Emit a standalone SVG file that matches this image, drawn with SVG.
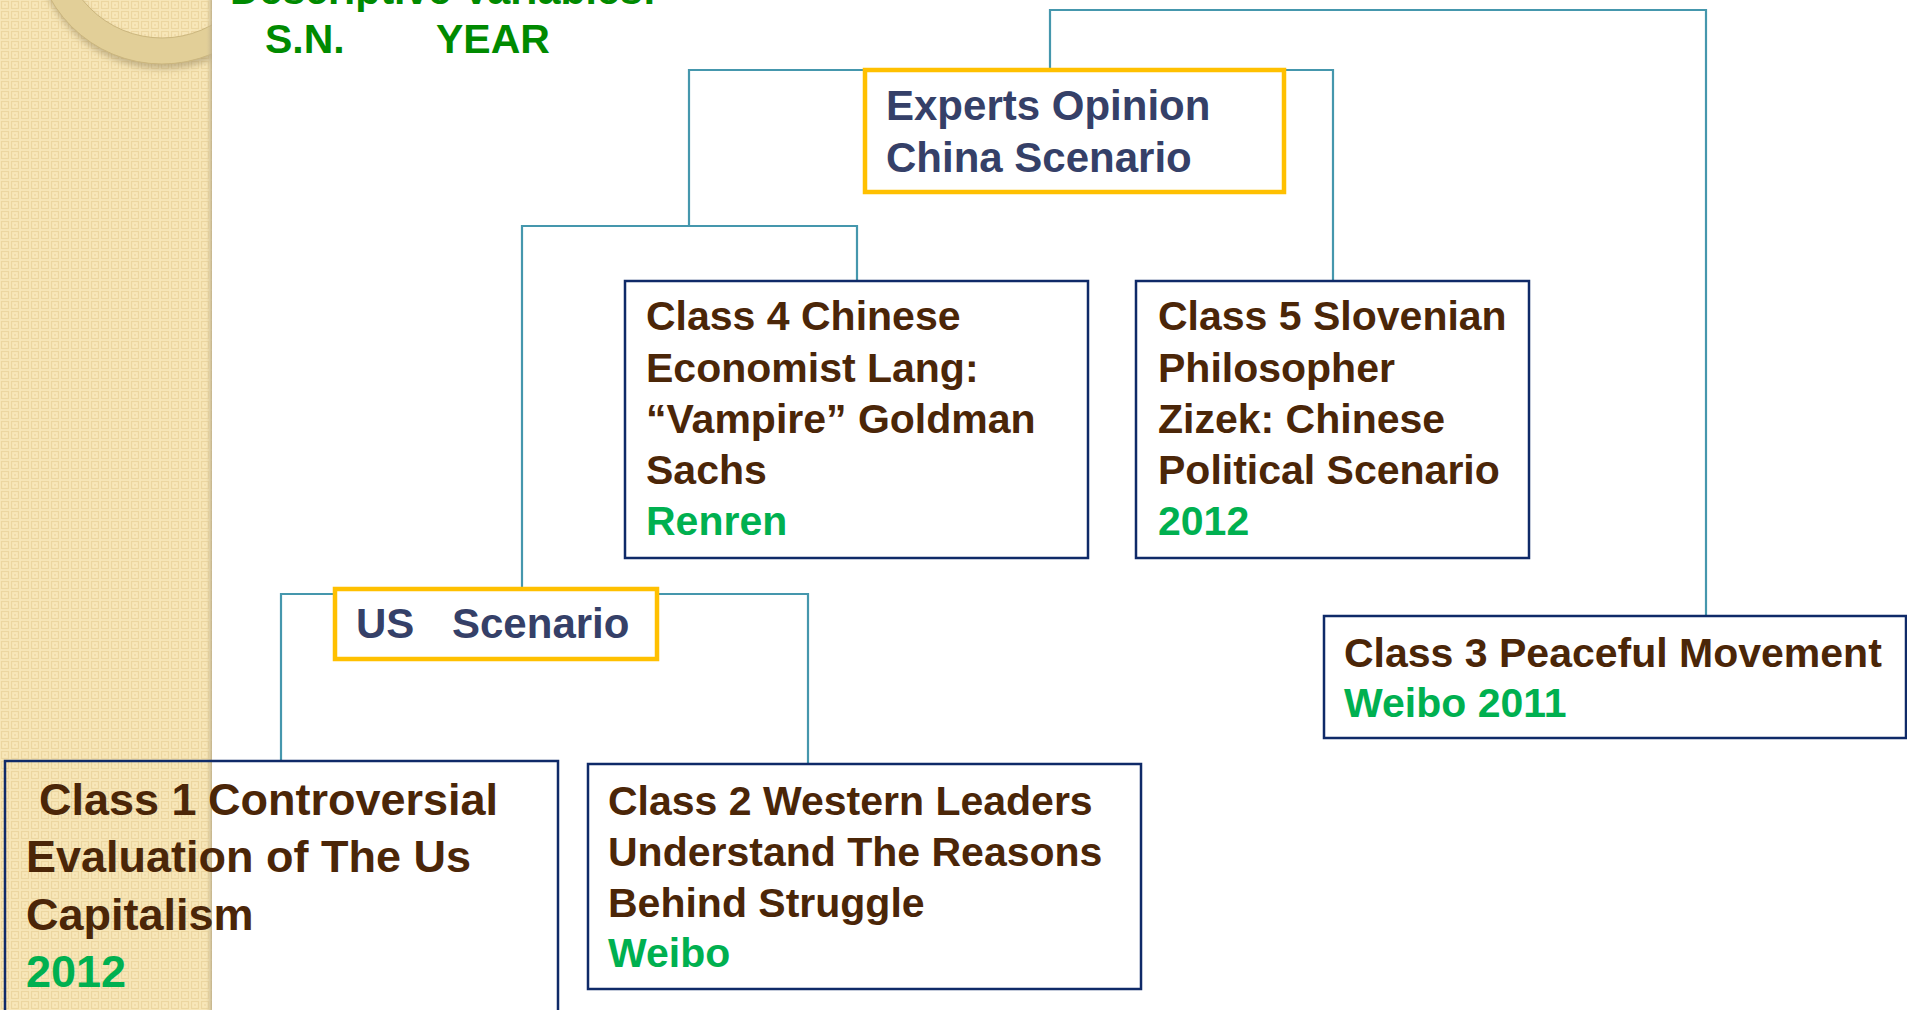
<svg xmlns="http://www.w3.org/2000/svg" width="1907" height="1010" viewBox="0 0 1907 1010">
  <defs>
    <pattern id="weave" x="0" y="0" width="10" height="10" patternUnits="userSpaceOnUse">
      <rect width="10" height="10" fill="#f8e7b9"/>
      <rect x="1.5" y="1.5" width="7" height="7" fill="none" stroke="#ecd6a0" stroke-width="1.2"/>
      <rect x="4" y="4" width="2" height="2" fill="#f1dcaa"/>
    </pattern>
    <clipPath id="stripClip">
      <rect x="0" y="0" width="212" height="1010"/>
    </clipPath>
    <filter id="ringShadow" x="-20%" y="-20%" width="140%" height="140%">
      <feGaussianBlur stdDeviation="3"/>
    </filter>
    <linearGradient id="edge" x1="0" y1="0" x2="1" y2="0">
      <stop offset="0" stop-color="#d8c79a" stop-opacity="0"/>
      <stop offset="1" stop-color="#b9ab88" stop-opacity="0.8"/>
    </linearGradient>
  </defs>
  <style>
    .conn { fill: none; stroke: #4597ad; stroke-width: 2.2; }
    .box { fill: none; stroke: #0f2a68; stroke-width: 2.5; }
    .gold { fill: #ffffff; stroke: #ffc000; stroke-width: 4.5; }
    text { font-family: "Liberation Sans", Arial, sans-serif; font-weight: bold; }
    .b { fill: #4b2608; font-size: 41px; }
    .b1 { fill: #4b2608; font-size: 45px; }
    .g { fill: #00b050; font-size: 41px; }
    .g1 { fill: #00b050; font-size: 45px; }
    .n { fill: #354068; font-size: 42px; }
    .hd { fill: #008a00; font-size: 41px; }
  </style>

  <rect x="0" y="0" width="1907" height="1010" fill="#ffffff"/>

  <!-- decorative side strip -->
  <g id="strip">
    <rect x="0" y="0" width="212" height="1010" fill="url(#weave)"/>
    <g clip-path="url(#stripClip)">
      <path d="M290,-64 a128,128 0 1,0 -256,0 a128,128 0 1,0 256,0 Z M264,-64 a102,102 0 1,1 -204,0 a102,102 0 1,1 204,0 Z" fill="#8a7a55" fill-opacity="0.45" fill-rule="evenodd" transform="translate(1,5)" filter="url(#ringShadow)"/>
      <path d="M290,-64 a128,128 0 1,0 -256,0 a128,128 0 1,0 256,0 Z M264,-64 a102,102 0 1,1 -204,0 a102,102 0 1,1 204,0 Z" fill="#e2cf98" stroke="#cbb67e" stroke-width="1" fill-rule="evenodd"/>
    </g>
    <rect x="206" y="0" width="6" height="1010" fill="url(#edge)"/>
  </g>

  <!-- heading -->
  <g id="heading">
    <text class="hd" x="230" y="4">Descriptive Variables:</text>
    <text class="hd" x="265" y="53">S.N.</text>
    <text class="hd" x="436" y="53">YEAR</text>
  </g>

  <!-- connectors -->
  <g id="connectors">
    <path class="conn" d="M1050,70 V10 H1706 V616"/>
    <path class="conn" d="M689,226 V70 H1333 V281"/>
    <path class="conn" d="M522,588 V226 H857 V281"/>
    <path class="conn" d="M281,761 V594 H808 V764"/>
  </g>

  <g id="experts">
    <rect class="gold" x="865" y="70" width="419" height="122"/>
    <text class="n" x="886" y="120">Experts Opinion</text>
    <text class="n" x="886" y="172">China Scenario</text>
  </g>

  <g id="us-scenario">
    <rect class="gold" x="335" y="589" width="322" height="70"/>
    <text class="n" x="356" y="638">US</text>
    <text class="n" x="452" y="638">Scenario</text>
  </g>

  <g id="class4">
    <rect class="box" x="625" y="281" width="463" height="277" fill="#ffffff" style="fill:#ffffff"/>
    <text class="b" x="646" y="330">Class 4 Chinese</text>
    <text class="b" x="646" y="382">Economist Lang:</text>
    <text class="b" x="646" y="433">“Vampire” Goldman</text>
    <text class="b" x="646" y="484">Sachs</text>
    <text class="g" x="646" y="535">Renren</text>
  </g>

  <g id="class5">
    <rect class="box" x="1136" y="281" width="393" height="277"/>
    <text class="b" x="1158" y="330">Class 5 Slovenian</text>
    <text class="b" x="1158" y="382">Philosopher</text>
    <text class="b" x="1158" y="433">Zizek: Chinese</text>
    <text class="b" x="1158" y="484">Political Scenario</text>
    <text class="g" x="1158" y="535">2012</text>
  </g>

  <g id="class3">
    <rect class="box" x="1324" y="616" width="582" height="122"/>
    <text class="b" x="1344" y="667">Class 3 Peaceful Movement</text>
    <text class="g" x="1344" y="717">Weibo 2011</text>
  </g>

  <g id="class1">
    <rect class="box" x="5" y="761" width="553" height="270"/>
    <text class="b1" x="39" y="815">Class 1</text>
    <text class="b1" x="208" y="815">Controversial</text>
    <text class="b1" x="26" y="872">Evaluation of The Us</text>
    <text class="b1" x="26" y="930">Capitalism</text>
    <text class="g1" x="26" y="987">2012</text>
  </g>

  <g id="class2">
    <rect class="box" x="588" y="764" width="553" height="225"/>
    <text class="b" x="608" y="815">Class 2 Western Leaders</text>
    <text class="b" x="608" y="866">Understand The Reasons</text>
    <text class="b" x="608" y="917">Behind Struggle</text>
    <text class="g" x="608" y="967">Weibo</text>
  </g>
</svg>
